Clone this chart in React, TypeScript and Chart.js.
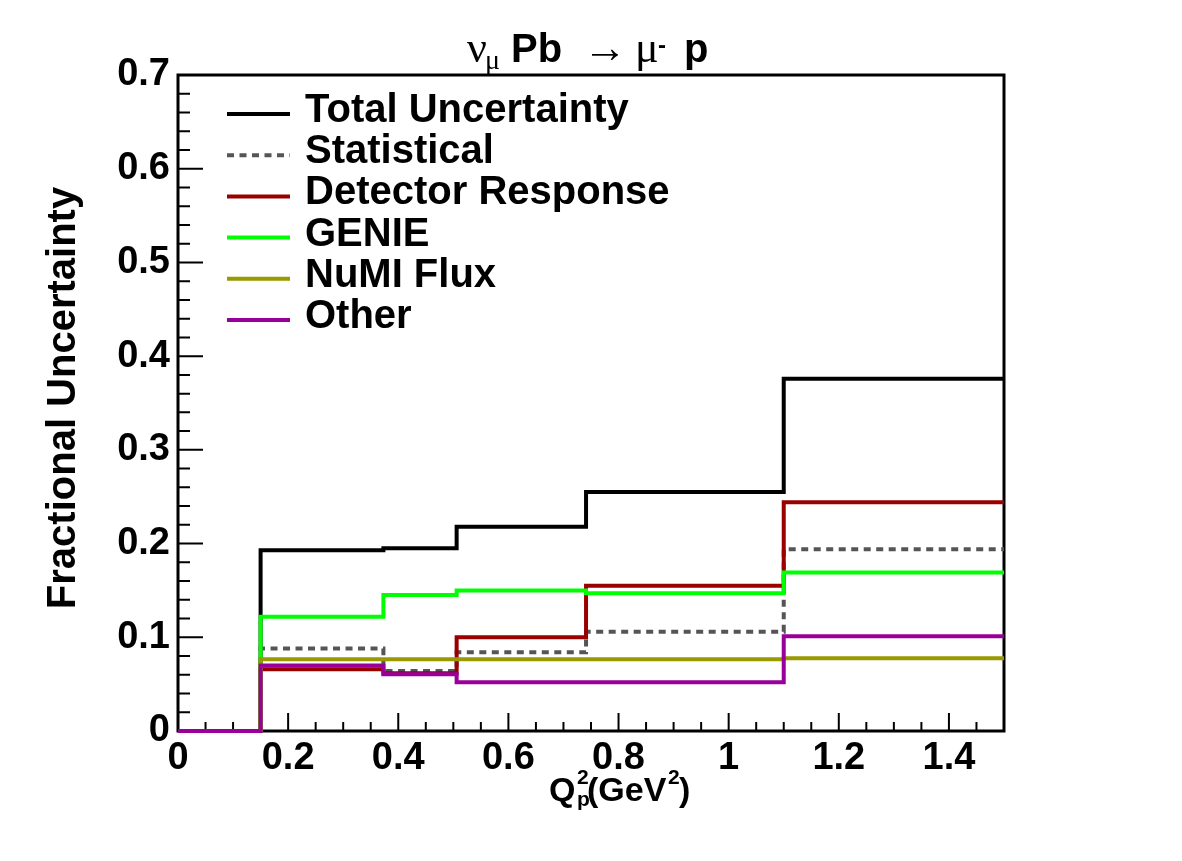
import { useEffect, useRef } from "react";
import { Chart, registerables } from "chart.js";

Chart.register(...registerables);

// Bin edges in Q^2_p (GeV^2) and fractional uncertainty per bin
const binEdges = [0, 0.15, 0.373, 0.506, 0.741, 1.1, 1.5];
const totalUnc = [0, 0.193, 0.195, 0.218, 0.255, 0.376];
const statUnc = [0, 0.088, 0.064, 0.084, 0.106, 0.194];
const detectorUnc = [0, 0.066, 0.0615, 0.1, 0.155, 0.244];
const genieUnc = [0, 0.122, 0.145, 0.15, 0.147, 0.169];
const fluxUnc = [0, 0.0765, 0.0765, 0.0765, 0.0765, 0.0775];
const otherUnc = [0, 0.07, 0.0605, 0.052, 0.052, 0.101];

const seriesLabels = [
  "Total Uncertainty",
  "Statistical",
  "Detector Response",
  "GENIE",
  "NuMI Flux",
  "Other",
];
const seriesColors = ["#000000", "#555555", "#990000", "#00ff00", "#999900", "#990099"];

const xTickValues = [0, 0.2, 0.4, 0.6, 0.8, 1, 1.2, 1.4];
const xTickLabels = ["0", "0.2", "0.4", "0.6", "0.8", "1", "1.2", "1.4"];
const yTickValues = [0, 0.1, 0.2, 0.3, 0.4, 0.5, 0.6, 0.7];
const yTickLabels = ["0", "0.1", "0.2", "0.3", "0.4", "0.5", "0.6", "0.7"];

const SANS = '"Liberation Sans", Arial, Helvetica, sans-serif';
const SERIF = '"Liberation Serif", "Times New Roman", serif';
const DOTTED = [7, 5.5];

// histogram contents -> points for a step line (hold value until next edge)
function toSteps(values: number[]) {
  const pts = values.map((v, i) => ({ x: binEdges[i], y: v }));
  pts.push({ x: binEdges[binEdges.length - 1], y: values[values.length - 1] });
  return pts;
}

type Piece = { text: string; font: string; x: number; y: number };

function drawPieces(ctx: CanvasRenderingContext2D, pieces: Piece[]) {
  ctx.textAlign = "left";
  ctx.textBaseline = "alphabetic";
  for (const p of pieces) {
    ctx.font = p.font;
    ctx.fillText(p.text, p.x, p.y);
  }
}

// Frame, inner tick marks, legend and titles in the style of a ROOT canvas
const rootStyle = {
  id: "rootStyle",
  beforeDatasetsDraw(chart: any) {
    const { ctx, chartArea: a, scales } = chart;
    const xs = scales.x;
    const ys = scales.y;
    ctx.save();
    ctx.strokeStyle = "#000";
    ctx.lineWidth = 2;
    ctx.beginPath();
    // y ticks: major every 0.1, minor every 0.02
    for (let i = 0; i <= 35; i++) {
      const py = ys.getPixelForValue(i * 0.02);
      const len = i % 5 === 0 ? 25 : 12;
      ctx.moveTo(a.left, py);
      ctx.lineTo(a.left + len, py);
    }
    // x ticks: major every 0.2, minor every 0.05
    for (let i = 0; i <= 30; i++) {
      const px = xs.getPixelForValue(i * 0.05);
      const len = i % 4 === 0 ? 18 : 9;
      ctx.moveTo(px, a.bottom);
      ctx.lineTo(px, a.bottom - len);
    }
    ctx.stroke();
    ctx.lineWidth = 3;
    ctx.strokeRect(a.left, a.top, a.right - a.left, a.bottom - a.top);
    ctx.restore();
  },
  afterDraw(chart: any) {
    const { ctx } = chart;
    ctx.save();
    ctx.fillStyle = "#000";

    // legend
    const rowTop = 114;
    const rowStep = 41.2;
    chart.data.datasets.forEach((ds: any, i: number) => {
      const y = rowTop + i * rowStep;
      ctx.beginPath();
      ctx.strokeStyle = ds.borderColor;
      ctx.lineWidth = 4;
      ctx.setLineDash(ds.borderDash || []);
      ctx.moveTo(227, y);
      ctx.lineTo(290, y);
      ctx.stroke();
      ctx.setLineDash([]);
      ctx.font = `bold 40px ${SANS}`;
      ctx.textAlign = "left";
      ctx.textBaseline = "alphabetic";
      ctx.fillText(ds.label, 305, y + 8);
    });

    // main title: nu_mu Pb -> mu^- p
    drawPieces(ctx, [
      { text: "ν", font: `44px ${SERIF}`, x: 467, y: 62 },
      { text: "μ", font: `28px ${SERIF}`, x: 485, y: 69 },
      { text: "Pb", font: `bold 40px ${SANS}`, x: 511, y: 62 },
      { text: "→", font: `44px ${SERIF}`, x: 583, y: 62 },
      { text: "μ", font: `44px ${SERIF}`, x: 635, y: 62 },
      { text: "-", font: `bold 24px ${SANS}`, x: 658, y: 53 },
      { text: "p", font: `bold 40px ${SANS}`, x: 684, y: 62 },
    ]);

    // x-axis title: Q^2_p(GeV^2)
    drawPieces(ctx, [
      { text: "Q", font: `bold 34px ${SANS}`, x: 549, y: 801 },
      { text: "2", font: `bold 21px ${SANS}`, x: 577, y: 784 },
      { text: "p", font: `bold 21px ${SANS}`, x: 577, y: 806 },
      { text: "(GeV", font: `bold 34px ${SANS}`, x: 587, y: 801 },
      { text: "2", font: `bold 21px ${SANS}`, x: 668, y: 784 },
      { text: ")", font: `bold 34px ${SANS}`, x: 679, y: 801 },
    ]);

    // y-axis title
    ctx.translate(75, 398);
    ctx.rotate(-Math.PI / 2);
    ctx.font = `bold 40px ${SANS}`;
    ctx.textAlign = "center";
    ctx.textBaseline = "alphabetic";
    ctx.fillText("Fractional Uncertainty", 0, 0);
    ctx.restore();
  },
};

export default function App() {
  const canvasRef = useRef<HTMLCanvasElement | null>(null);

  useEffect(() => {
    const canvas = canvasRef.current;
    if (!canvas) return;
    const series = [totalUnc, statUnc, detectorUnc, genieUnc, fluxUnc, otherUnc];
    const datasets = series.map((vals, i) => ({
      label: seriesLabels[i],
      data: toSteps(vals),
      borderColor: seriesColors[i],
      backgroundColor: seriesColors[i],
      borderWidth: 4,
      borderDash: i === 1 ? DOTTED : [],
      borderCapStyle: "butt" as const,
      borderJoinStyle: "miter" as const,
      stepped: "before" as const,
      pointRadius: 0,
      fill: false,
      tension: 0,
      order: series.length - i,
      clip: 4,
    }));

    const chart = new Chart(canvas, {
      type: "line",
      data: { datasets },
      options: {
        responsive: false,
        animation: false,
        devicePixelRatio: 1,
        events: [],
        layout: { padding: { left: 0, top: 75, right: 178, bottom: 0 } },
        plugins: {
          legend: { display: false },
          tooltip: { enabled: false },
          title: { display: false },
        },
        scales: {
          x: {
            type: "linear",
            position: "bottom",
            min: 0,
            max: 1.5,
            grid: { display: false, drawTicks: false },
            border: { display: false },
            ticks: {
              autoSkip: false,
              maxRotation: 0,
              padding: 5,
              color: "#000",
              font: { family: SANS, weight: "bold", size: 38 },
              callback: (_v: any, i: number) => xTickLabels[i],
            },
            afterBuildTicks: (s: any) => {
              s.ticks = xTickValues.map((v) => ({ value: v }));
            },
            afterFit: (s: any) => {
              s.height = 130;
            },
          },
          y: {
            type: "linear",
            position: "left",
            min: 0,
            max: 0.7,
            grid: { display: false, drawTicks: false },
            border: { display: false },
            ticks: {
              autoSkip: false,
              padding: 8,
              color: "#000",
              font: { family: SANS, weight: "bold", size: 38 },
              callback: (_v: any, i: number) => yTickLabels[i],
            },
            afterBuildTicks: (s: any) => {
              s.ticks = yTickValues.map((v) => ({ value: v }));
            },
            afterFit: (s: any) => {
              s.width = 178;
            },
          },
        },
      } as any,
      plugins: [rootStyle],
    });

    return () => chart.destroy();
  }, []);

  return (
    <div style={{ position: "absolute", left: 0, top: 0, width: 1182, height: 861, background: "#fff" }}>
      <canvas ref={canvasRef} width={1182} height={861} style={{ display: "block" }} />
    </div>
  );
}
